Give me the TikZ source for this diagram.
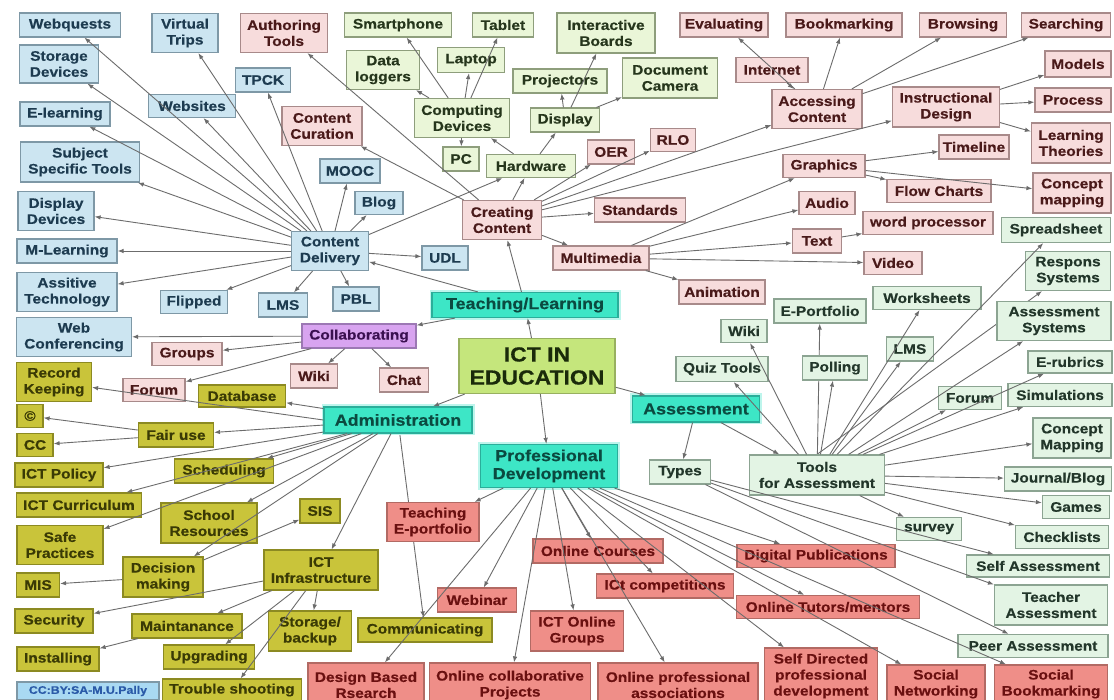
\documentclass[tikz,border=0pt]{standalone}
\usepackage{fontspec}
\setmainfont{Liberation Sans}[FakeStretch=1.12, BoldFeatures={FakeBold=0.4}]
\usetikzlibrary{arrows.meta}
\pgfdeclarelayer{bg}
\pgfsetlayers{bg,main}
\definecolor{blfill}{HTML}{CCE5F1}\definecolor{bldraw}{HTML}{7E98A6}\definecolor{bltext}{HTML}{1D3B50}
\definecolor{pkfill}{HTML}{F7DCDC}\definecolor{pkdraw}{HTML}{A88A8A}\definecolor{pktext}{HTML}{4A1A1A}
\definecolor{lgfill}{HTML}{EAF6D8}\definecolor{lgdraw}{HTML}{8E9E7C}\definecolor{lgtext}{HTML}{26361C}
\definecolor{agfill}{HTML}{E3F4E4}\definecolor{agdraw}{HTML}{8CA492}\definecolor{agtext}{HTML}{22362A}
\definecolor{tlfill}{HTML}{3DE6C6}\definecolor{tldraw}{HTML}{2AAE9A}\definecolor{tltext}{HTML}{0B4A40}
\definecolor{tlglow}{HTML}{BDF5EC}
\definecolor{ictfill}{HTML}{C5E67C}\definecolor{ictdraw}{HTML}{98B060}\definecolor{icttext}{HTML}{1A2A0A}
\definecolor{pufill}{HTML}{D8A4F0}\definecolor{pudraw}{HTML}{9C78B4}\definecolor{putext}{HTML}{3A1050}
\definecolor{olfill}{HTML}{C9C43A}\definecolor{oldraw}{HTML}{8C8A22}\definecolor{oltext}{HTML}{3A3A05}
\definecolor{safill}{HTML}{EF8E88}\definecolor{sadraw}{HTML}{B26A64}\definecolor{satext}{HTML}{6A1010}
\definecolor{ccfill}{HTML}{A9D9F2}\definecolor{cctext}{HTML}{2A5AA8}
\definecolor{edgec}{HTML}{6C6C6C}
\tikzset{
  base/.style={rectangle, line width=1.2pt, inner sep=0pt, align=center,
    font=\fontsize{13.8}{16}\selectfont\bfseries},
  wh/.style 2 args={minimum width=#1, minimum height=#2},
  bl/.style={base, fill=blfill, draw=bldraw, text=bltext},
  pk/.style={base, fill=pkfill, draw=pkdraw, text=pktext},
  lg/.style={base, fill=lgfill, draw=lgdraw, text=lgtext},
  ag/.style={base, fill=agfill, draw=agdraw, text=agtext},
  tl/.style={base, fill=tlfill, draw=tldraw, text=tltext, font=\fontsize{16}{18}\selectfont\bfseries,
    preaction={draw=tlglow, line width=5pt}},
  ictbox/.style={base, fill=ictfill, draw=ictdraw, text=icttext, font=\fontsize{20.5}{23}\selectfont\bfseries},
  pu/.style={base, fill=pufill, draw=pudraw, text=putext},
  ol/.style={base, fill=olfill, draw=oldraw, text=oltext},
  sa/.style={base, fill=safill, draw=sadraw, text=satext},
  ccbox/.style={base, fill=ccfill, draw=bldraw, text=cctext, font=\fontsize{11}{13}\selectfont\bfseries},
  ar/.style={draw=edgec, line width=0.9pt, -{Latex[length=6pt,width=4.5pt]}},
}
\begin{document}
\begin{tikzpicture}[x=1pt,y=1pt]
\begin{pgfonlayer}{bg}
\fill[white] (0,0) rectangle (1114,-700);
\end{pgfonlayer}
\useasboundingbox (0,0) rectangle (1114,-700);
% ---------- blue (content delivery) ----------
\node[bl, wh={101}{24}] (webq) at (70,-25) {Webquests};
\node[bl, wh={66}{39}] (vtrips) at (185,-33) {Virtual\\Trips};
\node[bl, wh={79}{38}] (storage) at (59,-64) {Storage\\Devices};
\node[bl, wh={55}{24}] (tpck) at (263,-80) {TPCK};
\node[bl, wh={87}{23}] (websites) at (192,-106) {Websites};
\node[bl, wh={90}{24}] (elearn) at (65,-114) {E-learning};
\node[bl, wh={119}{40}] (subject) at (80,-162) {Subject\\Specific Tools};
\node[bl, wh={60}{24}] (mooc) at (350,-171) {MOOC};
\node[bl, wh={76}{39}] (dispdev) at (56,-211) {Display\\Devices};
\node[bl, wh={48}{23}] (blog) at (379,-203) {Blog};
\node[bl, wh={77}{39}] (cdel) at (330,-251) {Content\\Delivery};
\node[bl, wh={46}{24}] (udl) at (445,-258) {UDL};
\node[bl, wh={100}{24}] (mlearn) at (67,-251) {M-Learning};
\node[bl, wh={100}{39}] (assitive) at (67,-292) {Assitive\\Technology};
\node[bl, wh={67}{23}] (flipped) at (194,-302) {Flipped};
\node[bl, wh={49}{24}] (lms) at (283,-305) {LMS};
\node[bl, wh={46}{24}] (pbl) at (356,-299) {PBL};
\node[bl, wh={115}{39}] (webconf) at (74,-337) {Web\\Conferencing};
% ---------- pink (creating content) ----------
\node[pk, wh={87}{39}] (authoring) at (284,-33) {Authoring\\Tools};
\node[pk, wh={80}{39}] (curation) at (322,-126) {Content\\Curation};
\node[pk, wh={79}{39}] (creating) at (502,-220) {Creating\\Content};
\node[pk, wh={47}{24}] (oer) at (611,-152) {OER};
\node[pk, wh={45}{23}] (rlo) at (673,-140) {RLO};
\node[pk, wh={91}{24}] (standards) at (640,-210) {Standards};
\node[pk, wh={96}{24}] (multimedia) at (601,-258) {Multimedia};
\node[pk, wh={86}{24}] (animation) at (722,-292) {Animation};
\node[pk, wh={88}{24}] (evaluating) at (724,-25) {Evaluating};
\node[pk, wh={116}{24}] (bookmarking) at (844,-25) {Bookmarking};
\node[pk, wh={87}{24}] (browsing) at (963,-25) {Browsing};
\node[pk, wh={89}{24}] (searching) at (1066,-25) {Searching};
\node[pk, wh={72}{25}] (internet) at (772,-70) {Internet};
\node[pk, wh={90}{39}] (accessing) at (817,-109) {Accessing\\Content};
\node[pk, wh={107}{40}] (instr) at (946,-107) {Instructional\\Design};
\node[pk, wh={66}{26}] (models) at (1078,-64) {Models};
\node[pk, wh={76}{24}] (process) at (1073,-100) {Process};
\node[pk, wh={79}{40}] (learning) at (1071,-143) {Learning\\Theories};
\node[pk, wh={70}{24}] (timeline) at (974,-147) {Timeline};
\node[pk, wh={82}{23}] (graphics) at (824,-166) {Graphics};
\node[pk, wh={104}{23}] (flow) at (939,-191) {Flow Charts};
\node[pk, wh={78}{40}] (conceptm) at (1072,-193) {Concept\\mapping};
\node[pk, wh={56}{23}] (audio) at (827,-203) {Audio};
\node[pk, wh={130}{23}] (wordp) at (928,-223) {word processor};
\node[pk, wh={49}{24}] (text) at (817,-241) {Text};
\node[pk, wh={58}{23}] (video) at (893,-263) {Video};
\node[pk, wh={70}{23}] (groups) at (187,-354) {Groups};
\node[pk, wh={62}{23}] (forumL) at (154,-390) {Forum};
\node[pk, wh={47}{24}] (wikiL) at (314,-376) {Wiki};
\node[pk, wh={49}{24}] (chat) at (404,-380) {Chat};
% ---------- light green (hardware) ----------
\node[lg, wh={107}{24}] (smartphone) at (398,-25) {Smartphone};
\node[lg, wh={61}{24}] (tablet) at (503,-25) {Tablet};
\node[lg, wh={98}{40}] (interactive) at (606,-33) {Interactive\\Boards};
\node[lg, wh={73}{39}] (datalog) at (383,-70) {Data\\loggers};
\node[lg, wh={67}{25}] (laptop) at (471,-60) {Laptop};
\node[lg, wh={94}{24}] (projectors) at (560,-81) {Projectors};
\node[lg, wh={95}{40}] (doccam) at (670,-78) {Document\\Camera};
\node[lg, wh={95}{39}] (computing) at (462,-118) {Computing\\Devices};
\node[lg, wh={69}{24}] (display) at (565,-120) {Display};
\node[lg, wh={36}{24}] (pc) at (461,-159) {PC};
\node[lg, wh={89}{23}] (hardware) at (531,-166) {Hardware};
% ---------- pale green (assessment) ----------
\node[ag, wh={109}{25}] (spreadsheet) at (1056,-230) {Spreadsheet};
\node[ag, wh={85}{39}] (respons) at (1068,-271) {Respons\\Systems};
\node[ag, wh={108}{23}] (worksheets) at (927,-298) {Worksheets};
\node[ag, wh={92}{24}] (eport) at (820,-311) {E-Portfolio};
\node[ag, wh={114}{39}] (asys) at (1054,-321) {Assessment\\Systems};
\node[ag, wh={46}{23}] (wikiR) at (744,-331) {Wiki};
\node[ag, wh={47}{24}] (lmsR) at (910,-349) {LMS};
\node[ag, wh={92}{25}] (quiz) at (722,-369) {Quiz Tools};
\node[ag, wh={65}{24}] (polling) at (835,-368) {Polling};
\node[ag, wh={84}{22}] (erubrics) at (1070,-362) {E-rubrics};
\node[ag, wh={63}{23}] (forumR) at (970,-398) {Forum};
\node[ag, wh={104}{23}] (simul) at (1060,-395) {Simulations};
\node[ag, wh={78}{40}] (conceptM) at (1072,-438) {Concept\\Mapping};
\node[ag, wh={135}{40}] (tools) at (817,-475) {Tools\\for Assessment};
\node[ag, wh={61}{24}] (types) at (680,-472) {Types};
\node[ag, wh={107}{24}] (journal) at (1058,-479) {Journal/Blog};
\node[ag, wh={67}{23}] (games) at (1076,-507) {Games};
\node[ag, wh={65}{23}] (survey) at (929,-529) {survey};
\node[ag, wh={93}{23}] (checklists) at (1062,-537) {Checklists};
\node[ag, wh={143}{22}] (selfA) at (1038,-566) {Self Assessment};
\node[ag, wh={113}{40}] (teacherA) at (1051,-605) {Teacher\\Assessment};
\node[ag, wh={150}{23}] (peerA) at (1033,-646) {Peer Assessment};
% ---------- main branches ----------
\node[ictbox, wh={156}{55}] (ict) at (537,-366) {ICT IN\\EDUCATION};
\node[tl, wh={186}{25}] (teaching) at (525,-305) {Teaching/Learning};
\node[tl, wh={148}{26}] (admin) at (398,-420) {Administration};
\node[tl, wh={127}{26}] (assess) at (696,-409) {Assessment};
\node[tl, wh={137}{43}] (profdev) at (549,-466) {Professional\\Development};
\node[pu, wh={114}{24}] (collab) at (359,-336) {Collaborating};
% ---------- olive (administration) ----------
\node[ol, wh={75}{39}] (record) at (54,-382) {Record\\Keeping};
\node[ol, wh={87}{22}] (database) at (242,-396) {Database};
\node[ol, wh={26}{23}] (copy) at (30,-416) {©};
\node[ol, wh={36}{23}] (cc) at (35,-445) {CC};
\node[ol, wh={75}{24}] (fairuse) at (176,-435) {Fair use};
\node[ol, wh={88}{24}] (ictpolicy) at (59,-475) {ICT Policy};
\node[ol, wh={99}{24}] (sched) at (224,-471) {Scheduling};
\node[ol, wh={125}{24}] (ictcurr) at (79,-505) {ICT Curriculum};
\node[ol, wh={96}{40}] (schoolres) at (209,-523) {School\\Resources};
\node[ol, wh={40}{24}] (sis) at (320,-511) {SIS};
\node[ol, wh={86}{39}] (safe) at (60,-545) {Safe\\Practices};
\node[ol, wh={80}{40}] (decision) at (163,-577) {Decision\\making};
\node[ol, wh={114}{40}] (ictinfra) at (321,-570) {ICT\\Infrastructure};
\node[ol, wh={43}{24}] (mis) at (38,-585) {MIS};
\node[ol, wh={78}{24}] (security) at (54,-621) {Security};
\node[ol, wh={110}{24}] (maint) at (187,-626) {Maintanance};
\node[ol, wh={83}{40}] (storageb) at (310,-631) {Storage/\\backup};
\node[ol, wh={82}{24}] (installing) at (58,-659) {Installing};
\node[ol, wh={91}{24}] (upgrading) at (209,-657) {Upgrading};
\node[ol, wh={139}{22}] (trouble) at (232,-690) {Trouble shooting};
\node[ol, wh={134}{24}] (communicating) at (425,-630) {Communicating};
\node[ccbox, wh={142}{18}] (ccby) at (88,-691) {CC:BY:SA-M.U.Pally};
% ---------- salmon (professional development) ----------
\node[sa, wh={92}{39}] (teachport) at (433,-522) {Teaching\\E-portfolio};
\node[sa, wh={130}{24}] (onlinecourses) at (598,-551) {Online Courses};
\node[sa, wh={137}{24}] (ictcomp) at (665,-586) {ICt competitions};
\node[sa, wh={158}{23}] (digipub) at (816,-556) {Digital Publications};
\node[sa, wh={79}{24}] (webinar) at (477,-600) {Webinar};
\node[sa, wh={93}{40}] (ictgroups) at (577,-631) {ICT Online\\Groups};
\node[sa, wh={183}{23}] (tutors) at (828,-607) {Online Tutors/mentors};
\node[sa, wh={116}{44}] (dbr) at (366,-685) {Design Based\\Rsearch};
\node[sa, wh={161}{44}] (collabproj) at (510,-685) {Online collaborative\\Projects};
\node[sa, wh={160}{44}] (profassoc) at (678,-685) {Online professional\\associations};
\node[sa, wh={113}{56}] (selfdir) at (821,-676) {Self Directed\\professional\\development};
\node[sa, wh={98}{38}] (socnet) at (936,-684) {Social\\Networking};
\node[sa, wh={113}{38}] (socbook) at (1051,-684) {Social\\Bookmarking};
% ---------- connectors hidden behind boxes ----------
\begin{pgfonlayer}{bg}
\draw[ar] (tools) -- (eport);
\draw[ar] (tools.north) -- ([xshift=-26pt]respons.south);
\draw[ar] (admin) -- (communicating);
\end{pgfonlayer}
% ---------- connectors ----------
\foreach \c in {teaching,admin,profdev,assess} \draw[ar] (ict) -- (\c);
\foreach \c in {creating,cdel,collab} \draw[ar] (teaching) -- (\c);
\foreach \c in {webq,vtrips,storage,tpck,websites,elearn,subject,dispdev,mlearn,assitive,flipped,lms,pbl,udl,mooc,blog,hardware}
  \draw[ar] (cdel) -- (\c);
\foreach \c in {authoring,curation,hardware,oer,rlo,standards,multimedia,accessing,instr}
  \draw[ar] (creating) -- (\c);
\foreach \c in {computing,display} \draw[ar] (hardware) -- (\c);
\foreach \c in {smartphone,laptop,tablet,datalog,pc} \draw[ar] (computing) -- (\c);
\foreach \c in {projectors,interactive,doccam} \draw[ar] (display) -- (\c);
\foreach \c in {graphics,audio,text,video,animation} \draw[ar] (multimedia) -- (\c);
\draw[ar] (text) -- (wordp);
\foreach \c in {timeline,flow,conceptm} \draw[ar] (graphics) -- (\c);
\foreach \c in {evaluating,bookmarking,browsing,searching} \draw[ar] (accessing) -- (\c);
\draw[ar] (internet) -- (accessing);
\foreach \c in {models,process,learning} \draw[ar] (instr) -- (\c);
\foreach \c in {webconf,groups,forumL,wikiL,chat} \draw[ar] (collab) -- (\c);
\draw[ar] (admin.west) -- (record);
\foreach \c in {database,fairuse,ictpolicy,sched,ictcurr,safe,schoolres,decision,ictinfra}
  \draw[ar] (admin) -- (\c);
\foreach \c in {copy,cc} \draw[ar] (fairuse) -- (\c);
\foreach \c in {mis,sis} \draw[ar] (decision) -- (\c);
\foreach \c in {security,maint,upgrading,storageb,trouble} \draw[ar] (ictinfra) -- (\c);
\draw[ar] (maint) -- (installing);
\foreach \c in {teachport,webinar,dbr,collabproj,ictgroups,onlinecourses,profassoc,ictcomp,digipub,tutors,selfdir,socnet,socbook}
  \draw[ar] (profdev) -- (\c);
\foreach \c in {types,tools} \draw[ar] (assess) -- (\c);
\foreach \c in {selfA,teacherA,peerA} \draw[ar] (types) -- (\c);
\foreach \c in {wikiR,quiz,polling,worksheets,lmsR,spreadsheet,asys,erubrics,forumR,simul,conceptM,journal,games,checklists,survey}
  \draw[ar] (tools) -- (\c);
\end{tikzpicture}
\end{document}
